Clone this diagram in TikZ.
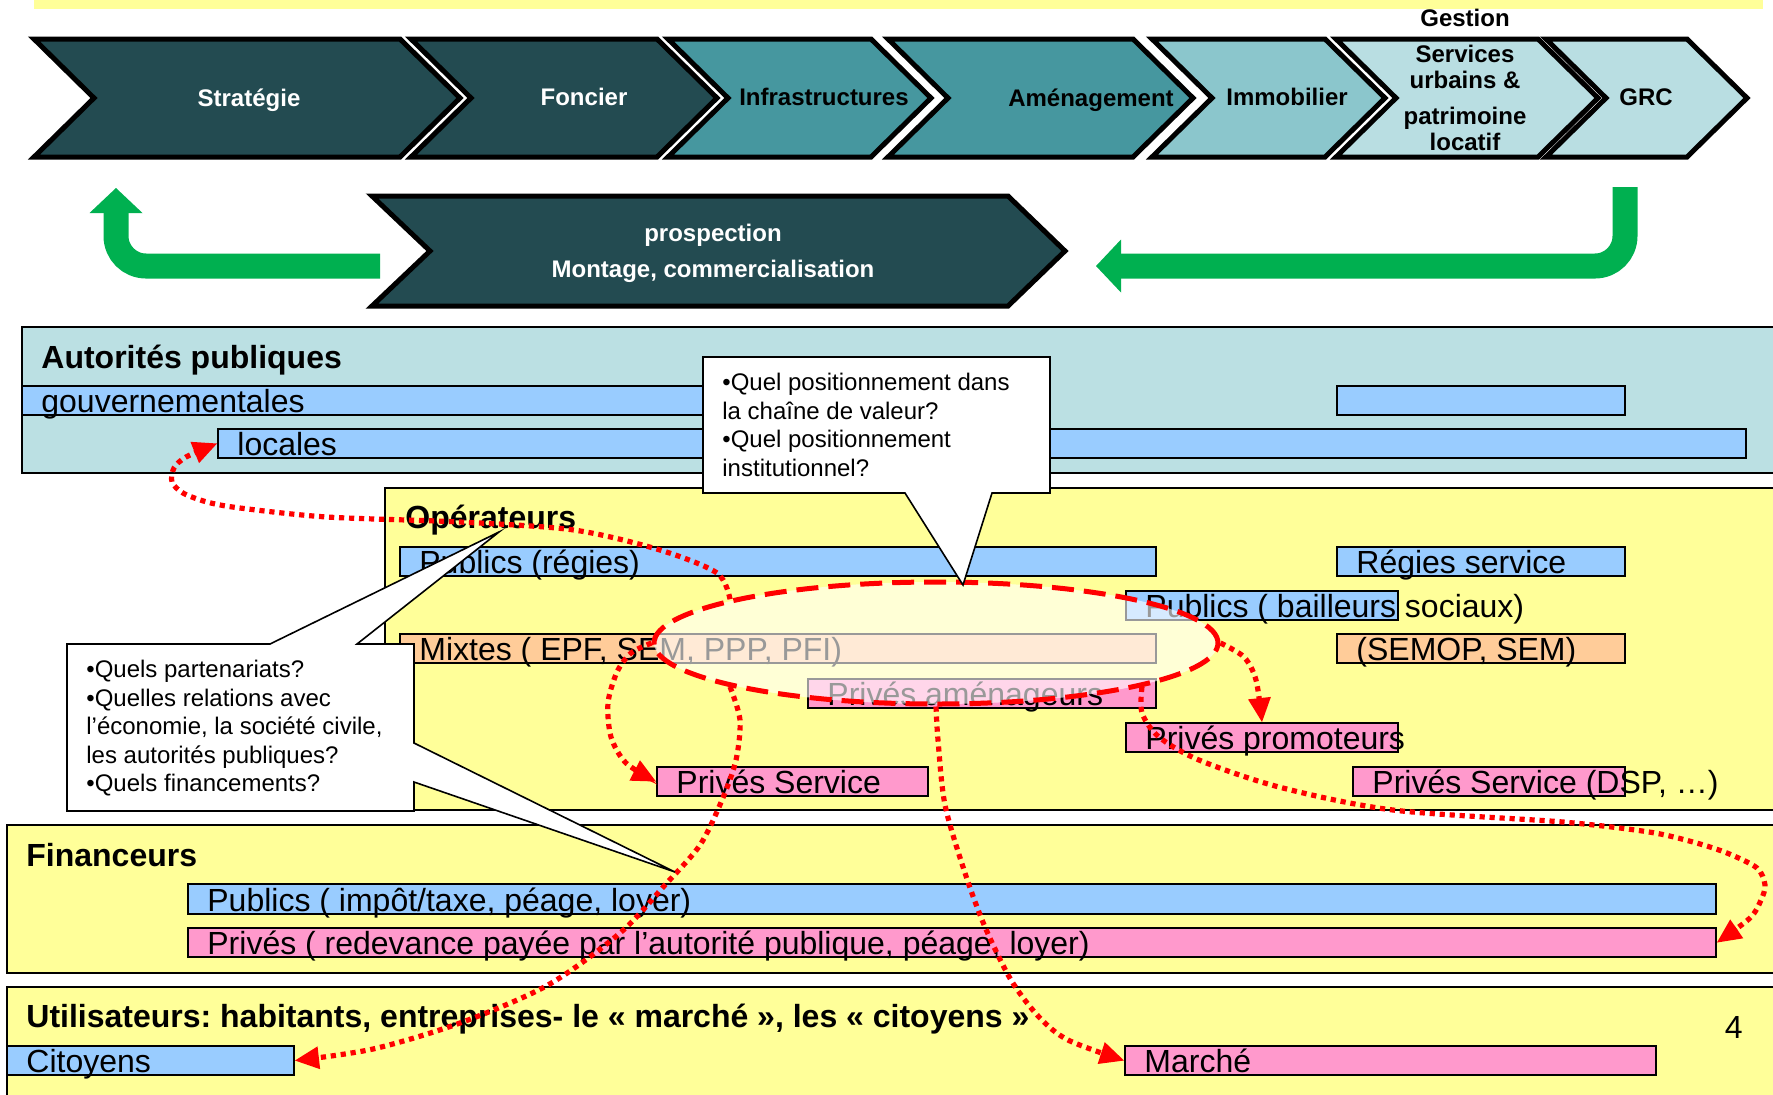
\documentclass[tikz,border=0pt]{standalone}
\usepackage{fontspec}
\setmainfont{Liberation Sans}
\usetikzlibrary{arrows.meta,positioning,shapes.geometric,fit}

\definecolor{chevdark}{RGB}{35,75,81}
\definecolor{chevmid}{RGB}{70,151,159}
\definecolor{chevlight}{RGB}{139,198,204}
\definecolor{chevpale}{RGB}{185,222,226}
\definecolor{autblue}{RGB}{187,224,227}
\definecolor{opyellow}{RGB}{255,255,153}
\definecolor{barblue}{RGB}{153,204,255}
\definecolor{barorange}{RGB}{255,204,153}
\definecolor{barpink}{RGB}{255,153,204}
\definecolor{arrgreen}{RGB}{0,176,80}

\tikzset{
  chev/.style={draw=black, line width=2.5pt, line join=miter},
  chevtxt/.style={font=\bfseries\fontsize{12}{13}\selectfont, align=center, inner sep=0pt},
  greenarr/.style={draw=arrgreen, line width=12.5pt, rounded corners=15pt, -{Triangle[length=12.5pt,width=26.5pt,line width=0pt]}},
  panel/.style={draw=black, line width=1pt},
  head/.style={font=\bfseries\fontsize{16}{19}\selectfont, anchor=base west, inner sep=0pt},
  barbox/.style={draw=black, line width=1pt, inner sep=0pt},
  lbl/.style={font=\fontsize{16}{19}\selectfont, anchor=base west, inner sep=0pt},
  ellzone/.style={ellipse, draw=red, line width=2.5pt, dash pattern=on 11pt off 5pt, fill=white, fill opacity=0.6, minimum width=282pt, minimum height=61pt, inner sep=0pt},
  reddot/.style={draw=red, line width=2.6pt, dash pattern=on 2.6pt off 2.4pt, -{Triangle[length=12pt,width=11.5pt,line width=0pt]}},
  bubble/.style={draw=black, fill=white, line width=0.8pt, line join=miter},
  bubtxt/.style={font=\fontsize{12}{14.25}\selectfont, align=left, anchor=north west, inner sep=0pt}
}

\begin{document}
\frenchspacing
\begin{tikzpicture}[x=0.5pt, y=-0.5pt]
    \useasboundingbox (0,0) rectangle (1773,1094);
    \clip (0,0) rectangle (1773,1094);

    \fill[opyellow] (34,0) rectangle (1763,9);

    \foreach \l/\r/\c in {34/400/chevdark, 411/657/chevdark, 668/871/chevmid, 888/1133/chevmid, 1152/1325/chevlight, 1336/1538/chevpale, 1546/1687/chevpale}
        \draw[chev, fill=\c] (\l,39) -- (\r,39) -- (\r+60,98) -- (\r,157) -- (\l,157) -- (\l+60,98) -- cycle;
    \node[chevtxt, text=white] (strat) at (249,100) {Stratégie};
    \node[chevtxt, text=white] (fonc) at (584,97) {Foncier};
    \node[chevtxt] (infra) at (824,97) {Infrastructures};
    \node[chevtxt] (amen) at (1091,100) {Aménagement};
    \node[chevtxt] (immo) at (1287,97) {Immobilier};
    \node[chevtxt, anchor=north] (serv) at (1465,9) {Gestion\\[5pt]Services\\urbains \&\\[5pt]patrimoine\\locatif};
    \node[chevtxt] (grc) at (1646,97) {GRC};

    \draw[chev, fill=chevdark] (372,196) -- (1008,196) -- (1065,251) -- (1008,306) -- (372,306) -- (430,251) -- cycle;
    \node[chevtxt, text=white, font=\bfseries\fontsize{12}{18}\selectfont] (prosp) at (713,253) {prospection\\Montage, commercialisation};

    \coordinate (gstart) at (380,266);
    \coordinate (gend) at (116,188);
    \draw[greenarr] (gstart) -| (gend);
    \coordinate (dstart) at (1625,187);
    \coordinate (dend) at (1096,266);
    \draw[greenarr] (dstart) |- (dend);

    \draw[panel, fill=autblue] (22,327) rectangle (1790,473);
    \node[head] (aut) at (41,368) {Autorités publiques};
    \node[barbox, fill=barblue, fit={(22,386) (900,415)}] (gouv) {};
    \node[lbl] (gouvtxt) at ([shift={(10pt,2pt)}]gouv.south west) {gouvernementales};
    \node[barbox, fill=barblue, fit={(1337,386) (1625,415)}] (gouvr) {};
    \node[barbox, fill=barblue, fit={(218,429) (1746,458)}] (loc) {};
    \node[lbl] (loctxt) at ([shift={(10pt,2pt)}]loc.south west) {locales};

    \draw[panel, fill=opyellow] (385,488) rectangle (1790,810);
    \node[head] (op) at (405,528) {Opérateurs};
    \node[barbox, fill=barblue, fit={(400,547) (1156,576)}] (regies) {};
    \node[lbl] (regiestxt) at ([shift={(10pt,2pt)}]regies.south west) {Publics (régies)};
    \node[barbox, fill=barblue, fit={(1337,547) (1625,576)}] (regserv) {};
    \node[lbl] (regservtxt) at ([shift={(10pt,2pt)}]regserv.south west) {Régies service};
    \node[barbox, fill=barblue, fit={(1126,591) (1398,620)}] (bail) {};
    \node[lbl] (bailtxt) at ([shift={(10pt,2pt)}]bail.south west) {Publics ( bailleurs sociaux)};
    \node[barbox, fill=barorange, fit={(400,634) (1156,663)}] (mixtes) {};
    \node[lbl] (mixtestxt) at ([shift={(10pt,2pt)}]mixtes.south west) {Mixtes ( EPF, SEM, PPP, PFI)};
    \node[barbox, fill=barorange, fit={(1337,634) (1625,663)}] (semop) {};
    \node[lbl] (semoptxt) at ([shift={(10pt,2pt)}]semop.south west) {(SEMOP, SEM)};
    \node[barbox, fill=barpink, fit={(808,679) (1156,708)}] (amenag) {};
    \node[lbl] (amenagtxt) at ([shift={(10pt,2pt)}]amenag.south west) {Privés aménageurs};
    \node[barbox, fill=barpink, fit={(1126,723) (1398,752)}] (promo) {};
    \node[lbl] (promotxt) at ([shift={(10pt,2pt)}]promo.south west) {Privés promoteurs};
    \node[barbox, fill=barpink, fit={(657,767) (928,796)}] (privserv) {};
    \node[lbl] (privservtxt) at ([shift={(10pt,2pt)}]privserv.south west) {Privés Service};
    \node[barbox, fill=barpink, fit={(1353,767) (1625,796)}] (dsp) {};
    \node[lbl] (dsptxt) at ([shift={(10pt,2pt)}]dsp.south west) {Privés Service (DSP, …)};

    \draw[panel, fill=opyellow] (7,825) rectangle (1790,973);
    \node[head] (fin) at (26,866) {Financeurs};
    \node[barbox, fill=barblue, fit={(188,884) (1716,914)}] (finpub) {};
    \node[lbl] (finpubtxt) at ([shift={(10pt,2pt)}]finpub.south west) {Publics ( impôt/taxe, péage, loyer)};
    \node[barbox, fill=barpink, fit={(188,928) (1716,957)}] (finpriv) {};
    \node[lbl] (finprivtxt) at ([shift={(10pt,2pt)}]finpriv.south west) {Privés ( redevance payée par l’autorité publique, péage, loyer)};

    \draw[panel, fill=opyellow] (7,987) rectangle (1790,1110);
    \node[head] (util) at (26,1027) {Utilisateurs: habitants, entreprises- le « marché », les « citoyens »};
    \node[barbox, fill=barblue, fit={(7,1046) (294,1075)}] (citoy) {};
    \node[lbl] (citoytxt) at ([shift={(10pt,2pt)}]citoy.south west) {Citoyens};
    \node[barbox, fill=barpink, fit={(1125,1046) (1656,1075)}] (marche) {};
    \node[lbl] (marchetxt) at ([shift={(10pt,2pt)}]marche.south west) {Marché};
    \node[lbl, anchor=base east] (num) at (1743,1038) {4};

    \node[ellzone] (ell) at (936,643) {};

    \draw[reddot] plot[smooth] coordinates {(ell.168) (717,573) (660,550) (574,530) (460,522) (327,517) (240,508) (207,502) (183,493) (172,482) (174,468) (186,457) (loc.west)};
    \draw[reddot] plot[smooth] coordinates {(ell.192) (740,720) (736,760) (722,800) (700,845) (665,885) (620,933) (548,985) (460,1023) (373,1049) (citoy.east)};
    \draw[reddot] plot[smooth] coordinates {(ell.west) (631,653) (617,672) (608,703) (611,737) (626,763) (privserv.west)};
    \draw[reddot] plot[smooth] coordinates {(ell.east) (1244,657) (1256,680) (promo.north)};
    \draw[reddot] plot[smooth] coordinates {(ell.south) (938,740) (945,805) (965,873) (985,927) (1011,980) (1039,1017) (1068,1040) (marche.west)};
    \draw[reddot] plot[smooth] coordinates {(ell.348) (1142,713) (1159,737) (1199,760) (1279,787) (1393,810) (1563,822) (1649,832) (1693,842) (1727,853) (1757,868) (1765,885) (1761,900) (1750,918) (finpriv.east)};

    \draw[bubble] (703,357) -- (1050,357) -- (1050,493) -- (992,493) -- (963,585) -- (905,493) -- (703,493) -- cycle;
    \node[bubtxt] (q1) at (722,373) {•Quel positionnement dans\\la chaîne de valeur?\\•Quel positionnement\\institutionnel?};
    \draw[bubble] (67,644) -- (270,644) -- (499,532) -- (357,644) -- (414,644) -- (414,743) -- (675,872) -- (414,782) -- (414,811) -- (67,811) -- cycle;
    \node[bubtxt] (q2) at (86,660) {•Quels partenariats?\\•Quelles relations avec\\l’économie, la société civile,\\les autorités publiques?\\•Quels financements?};
\end{tikzpicture}
\end{document}
